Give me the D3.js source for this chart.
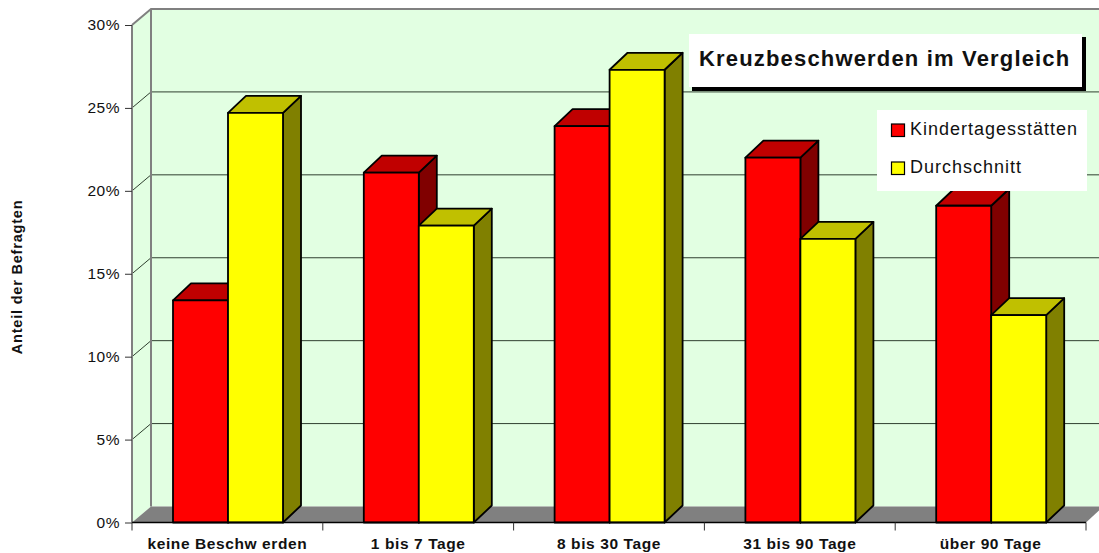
<!DOCTYPE html>
<html>
<head>
    <meta charset="utf-8">
    <title>Kreuzbeschwerden im Vergleich</title>
    <script src="https://d3js.org/d3.v7.min.js"></script>
    <style>
        html, body { margin: 0; padding: 0; background: #fff; overflow: hidden; }
        svg { display: block; font-family: "Liberation Sans", Arial, sans-serif; }
    </style>
</head>
<body>
    <script>
        // Values, percent
        var categories = ["keine Beschw erden", "1 bis 7 Tage", "8 bis 30 Tage", "31 bis 90 Tage", "über 90 Tage"];
        var kita = [13.4, 21.1, 23.9, 22.0, 19.1];
        var durchschnitt = [24.7, 17.9, 27.3, 17.1, 12.5];
        var yTicks = [0, 5, 10, 15, 20, 25, 30];
        var seriesNames = ["Kindertagesstätten", "Durchschnitt"];

        var width = 1099, height = 553;
        var depthX = 19, depthY = 16;
        var barDepthX = 18, barDepthY = 17;

        var svg = d3.select("body").append("svg")
            .attr("width", width)
            .attr("height", height);

        var y = d3.scaleLinear().domain([0, 30]).range([522.5, 25]);
        var x = d3.scaleBand().domain(categories).range([132, 1086]).paddingInner(0).paddingOuter(0);
        var sub = d3.scaleBand().domain([0, 1]).range([41, 151]);

        var colors = [
            { front: "#ff0000", top: "#c00000", side: "#800000" },
            { front: "#ffff00", top: "#c0c000", side: "#808000" }
        ];

        function pts(a) { return a.map(function(p) { return p.join(","); }).join(" "); }

        // back wall and side wall
        var x0 = x.range()[0], x1 = x.range()[1];
        svg.append("polygon")
            .attr("points", pts([[x0, y(30)], [x0 + depthX, y(30) - depthY], [width, y(30) - depthY], [width, y(0) - depthY], [x0 + depthX, y(0) - depthY], [x0, y(0)]]))
            .attr("fill", "#e2ffe2");

        // floor
        svg.append("polygon")
            .attr("points", pts([[x0, y(0)], [x0 + depthX, y(0) - depthY], [width, y(0) - depthY], [width, y(0) - depthY + 4], [x1, y(0)]]))
            .attr("fill", "#808080");

        // gridlines, both on the side wall and the back wall
        yTicks.slice(1).forEach(function(t) {
            var c = t == 30 ? "#808080" : "#2f3f2f";
            var w = t == 30 ? 2 : 1;
            svg.append("polyline")
                .attr("points", pts([[x0, y(t)], [x0 + depthX, y(t) - depthY], [width, y(t) - depthY]]))
                .attr("fill", "none")
                .attr("stroke", c)
                .attr("stroke-width", w);
        });

        svg.append("line")
            .attr("x1", x0 + depthX).attr("x2", x0 + depthX)
            .attr("y1", y(30) - depthY).attr("y2", y(0) - depthY)
            .attr("stroke", "#808080").attr("stroke-width", 2);
        svg.append("line")
            .attr("x1", x0).attr("x2", x0)
            .attr("y1", y(30)).attr("y2", y(0))
            .attr("stroke", "#808080").attr("stroke-width", 2);

        // y axis
        var yAxis = d3.axisLeft(y)
            .tickValues(yTicks)
            .tickFormat(function(d) { return d + "%"; })
            .tickSize(7)
            .tickPadding(5);
        var gy = svg.append("g").attr("transform", "translate(" + x0 + ",0)").call(yAxis);
        gy.select(".domain").remove();
        gy.selectAll("line").attr("stroke", "#333");
        gy.selectAll("text")
            .attr("fill", "#111")
            .style("font-size", "15.5px")
            .style("letter-spacing", "0.5px")
            .style("font-family", "Liberation Sans");

        // bars, back to front
        [kita, durchschnitt].forEach(function(vals, s) {
            var g = svg.selectAll(".bar" + s)
                .data(vals)
                .enter().append("g")
                .attr("class", "bar" + s)
                .attr("stroke", "#000")
                .attr("stroke-width", 1.8)
                .attr("stroke-linejoin", "round");

            function left(d, i) { return x(categories[i]) + sub(s); }

            g.append("polygon")
                .attr("fill", colors[s].side)
                .attr("points", function(d, i) {
                    var r = left(d, i) + sub.bandwidth();
                    return pts([[r, y(d)], [r + barDepthX, y(d) - barDepthY], [r + barDepthX, y(0) - barDepthY], [r, y(0)]]);
                });
            g.append("polygon")
                .attr("fill", colors[s].top)
                .attr("points", function(d, i) {
                    var l = left(d, i), r = l + sub.bandwidth();
                    return pts([[l, y(d)], [l + barDepthX, y(d) - barDepthY], [r + barDepthX, y(d) - barDepthY], [r, y(d)]]);
                });
            g.append("rect")
                .attr("fill", colors[s].front)
                .attr("x", left)
                .attr("y", function(d) { return y(d); })
                .attr("width", sub.bandwidth())
                .attr("height", function(d) { return y(0) - y(d); });
        });

        // x axis, ticks sit on the band edges
        var edges = categories.map(function(c) { return x(c); }).concat([x1]);
        var ax = svg.append("g");
        ax.append("line")
            .attr("x1", x0).attr("x2", x1)
            .attr("y1", y(0)).attr("y2", y(0))
            .attr("stroke", "#000").attr("stroke-width", 1.5);
        ax.selectAll(".tick")
            .data(edges)
            .enter().append("line")
            .attr("x1", function(d) { return d; }).attr("x2", function(d) { return d; })
            .attr("y1", y(0)).attr("y2", y(0) + 8)
            .attr("stroke", "#333");
        ax.selectAll(".cat")
            .data(categories)
            .enter().append("text")
            .attr("x", function(d) { return x(d) + x.bandwidth() / 2; })
            .attr("y", 549)
            .attr("text-anchor", "middle")
            .attr("fill", "#111")
            .style("font-size", "15.5px")
            .style("font-weight", "bold")
            .style("letter-spacing", "0.6px")
            .text(function(d) { return d; });

        // axis title
        svg.append("text")
            .attr("transform", "translate(22,277) rotate(-90)")
            .attr("text-anchor", "middle")
            .attr("fill", "#111")
            .style("font-size", "14.5px")
            .style("font-weight", "bold")
            .style("letter-spacing", "0.8px")
            .text("Anteil der Befragten");

        // title box with its shadow
        svg.append("rect").attr("x", 692).attr("y", 37).attr("width", 394).attr("height", 54).attr("fill", "#000");
        svg.append("rect").attr("x", 689).attr("y", 34).attr("width", 393).attr("height", 53).attr("fill", "#fff");
        svg.append("text")
            .attr("x", 699).attr("y", 66)
            .attr("fill", "#111")
            .style("font-size", "22px")
            .style("font-weight", "bold")
            .style("letter-spacing", "1.17px")
            .text("Kreuzbeschwerden im Vergleich");

        // legend
        svg.append("rect").attr("x", 877).attr("y", 110).attr("width", 210).attr("height", 81).attr("fill", "#fff");
        seriesNames.forEach(function(name, i) {
            var ly = 124 + i * 38;
            svg.append("rect")
                .attr("x", 891.5).attr("y", ly)
                .attr("width", 13).attr("height", 12.5)
                .attr("fill", colors[i].front)
                .attr("stroke", "#000")
                .attr("stroke-width", 1.2);
            svg.append("text")
                .attr("x", 910).attr("y", ly + 11)
                .attr("fill", "#111")
                .style("font-size", "18px")
                .style("letter-spacing", "1px")
                .text(name);
        });
    </script>
</body>
</html>
